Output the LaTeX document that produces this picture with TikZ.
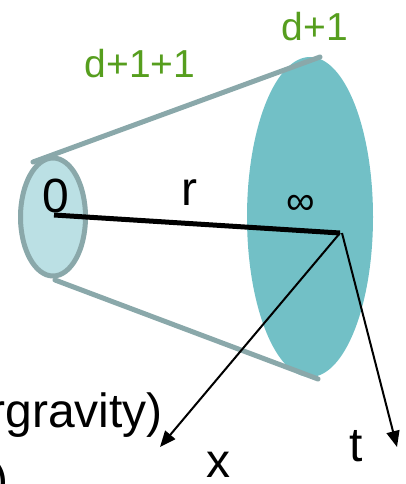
\documentclass[tikz,border=0pt]{standalone}
\usepackage{fontspec}
\setmainfont{Liberation Sans}
\usetikzlibrary{shapes.geometric,arrows.meta}
\definecolor{conegray}{RGB}{138,168,170}
\definecolor{lightcyan}{RGB}{187,224,228}
\definecolor{tealfill}{RGB}{114,192,198}
\definecolor{dimgreen}{RGB}{86,158,30}
\tikzset{
  cone/.style={draw=conegray, line width=5pt, line cap=round},
  axisarrow/.style={line width=2pt, -{Triangle[length=16pt,width=13pt]}},
  bigtext/.style={inner sep=0pt, font=\fontsize{48}{50}\selectfont},
  greentext/.style={inner sep=0pt, text=dimgreen, font=\fontsize{39}{41}\selectfont}
}
\begin{document}
\begin{tikzpicture}[x=1pt,y=-1pt]
\path[use as bounding box, clip] (0,0) rectangle (405,484);
% big disc
\node[ellipse, fill=tealfill, minimum width=126pt, minimum height=320pt, inner sep=0pt] (big) at (310,217) {};
% small disc
\node[ellipse, draw=conegray, line width=5pt, fill=lightcyan, minimum width=65pt, minimum height=118pt, inner sep=0pt] (small) at (53,217) {};
% cone sides
\coordinate (tl) at (33,162);
\coordinate (tr) at (320,57);
\coordinate (bl) at (55,280);
\coordinate (br) at (318,379);
\draw[cone] (tl) -- (tr);
\draw[cone] (bl) -- (br);
% radial line
\coordinate (O) at (54,215);
\coordinate (P) at (340,233);
\coordinate (X) at (160,447);
\coordinate (T) at (397,447);
\draw[line width=5pt] (O) -- (P);
\draw[axisarrow] (P) -- (X);
\draw[axisarrow] ([xshift=2pt]P) -- (T);
% labels
\node[greentext] (lab1) at (140,64) {d+1+1};
\node[greentext] (lab2) at (315,27) {d+1};
\node[bigtext] (zero) at (56,196) {0};
\node[bigtext] (rlab) at (189,193) {r};
\node[inner sep=0pt, font=\fontsize{40}{42}\selectfont] (inf) at (301,205) {∞};
\node[bigtext] (xlab) at (218,465) {x};
\node[bigtext] (tlab) at (356,446) {t};
\node[bigtext, anchor=east] (sugra) at (163,415) {rgravity)};
\node[bigtext, anchor=north east] (paren) at (9,461) {)};
\end{tikzpicture}
\end{document}
